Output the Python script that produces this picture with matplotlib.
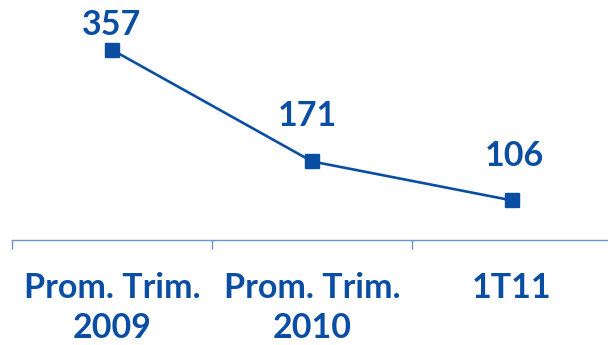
import numpy as np
import matplotlib.pyplot as plt

plt.rcParams.update({
    "font.family": ["Lato", "DejaVu Sans"],
    "font.weight": "bold",
})

categories = ["Prom. Trim.\n2009", "Prom. Trim.\n2010", "1T11"]
values = [357, 171, 106]

blue = "#0a4ea3"
axis_blue = "#6b93cc"

fig = plt.figure(figsize=(6.08, 3.45), dpi=100)
# axes spans pixel x 12..612, y 24..240
ax = fig.add_axes([12 / 608, 105 / 345, 600 / 608, 216 / 345])

x = np.arange(len(categories))
ax.plot(x, values, color=blue, lw=1.9, marker="s", ms=10.5, mec=blue, mfc=blue,
        clip_on=False, zorder=3)

label_offsets = [(0, 18), (-3, 33), (2, 32)]  # points from marker
for xi, v, off in zip(x, values, label_offsets):
    ax.annotate(str(v), (xi, v), xytext=off, textcoords="offset points",
                ha="center", va="center", fontsize=24.5, color=blue, fontweight="bold")

ax.set_xlim(-0.5, 2.5)
ax.set_ylim(40, 400)

for s in ["top", "right", "left"]:
    ax.spines[s].set_visible(False)
ax.spines["bottom"].set_color(axis_blue)
ax.spines["bottom"].set_linewidth(1.0)
ax.set_yticks([])

ax.set_xticks(x)
ax.set_xticklabels(categories, fontsize=24.5, color=blue, fontweight="bold",
                   linespacing=1.3, va="top")
ax.tick_params(axis="x", which="major", length=0, pad=23)
ax.set_xticks([-0.5, 0.5, 1.5], minor=True)
ax.tick_params(axis="x", which="minor", length=6.5, width=1.0, color=axis_blue,
               direction="out")

fig.savefig("out.png", dpi=100)
